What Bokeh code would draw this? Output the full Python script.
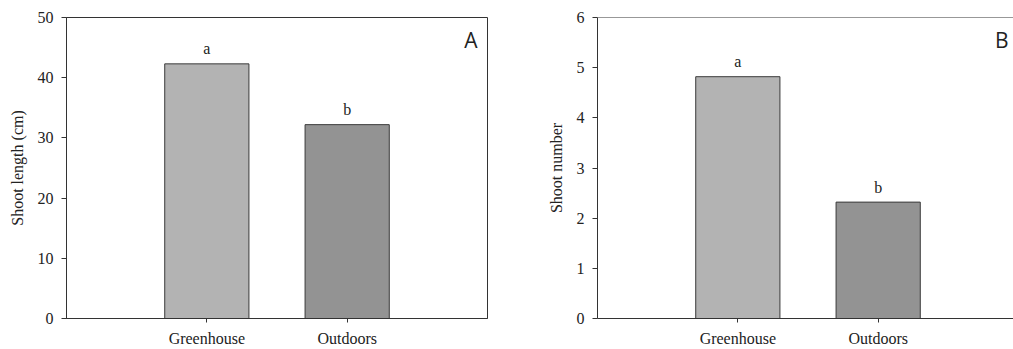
from bokeh.plotting import figure
from bokeh.layouts import row
from bokeh.models import FixedTicker, Label, Span, ColumnDataSource
from bokeh.core.properties import value
from bokeh.embed import file_html
from bokeh.resources import INLINE

categories = ["Greenhouse", "Outdoors"]
shoot_length = [42.3, 32.2]
shoot_number = [4.82, 2.32]
letters_length = ["a", "b"]
letters_number = ["a", "b"]
bar_colors = ["#b3b3b3", "#939393"]
length_ticks = [0, 10, 20, 30, 40, 50]
number_ticks = [0, 1, 2, 3, 4, 5, 6]

SERIF = "Liberation Serif"
INK = "#222222"
LINE = "#333333"


def make_panel(values, letters, ticks, ylabel, panel_tag, fig_w, left, right, frame_w, show_right):
    n = len(categories)
    xs = [i + 1 for i in range(n)]
    unit = 421 / (n + 1)
    x_end = frame_w / unit
    ymax = ticks[-1]
    p = figure(width=fig_w, height=349, x_range=(0, x_end), y_range=(0, ymax),
               output_backend="svg", toolbar_location=None,
               min_border_left=left, min_border_right=right,
               min_border_top=17, min_border_bottom=30)
    p.xgrid.visible = False
    p.ygrid.visible = False
    p.background_fill_color = "white"
    p.border_fill_color = "white"
    if show_right:
        p.outline_line_color = LINE
        p.outline_line_width = 1
    else:
        p.outline_line_color = None
        p.add_layout(Span(location=ymax, dimension="width", line_color=LINE, line_width=1))

    src = ColumnDataSource(dict(x=xs, top=values, color=bar_colors, lab=letters))
    p.vbar(x="x", top="top", width=0.6, bottom=0, fill_color="color",
           line_color="#3a3a3a", line_width=1, source=src)
    p.text(x="x", y="top", text="lab", source=src, text_align="center",
           text_baseline="alphabetic", y_offset=-15,
           text_font=value(SERIF), text_font_size="16px", text_color=INK)

    p.xaxis.ticker = FixedTicker(ticks=xs)
    p.xaxis.major_label_overrides = {x: c for x, c in zip(xs, categories)}
    p.yaxis.ticker = FixedTicker(ticks=ticks)
    for ax in (p.xaxis, p.yaxis):
        ax.axis_line_color = LINE
        ax.major_tick_line_color = LINE
        ax.minor_tick_line_color = None
        ax.major_tick_in = 0
        ax.major_label_text_font = SERIF
        ax.major_label_text_color = INK
    p.xaxis.major_tick_out = 4
    p.yaxis.major_tick_out = 5
    p.xaxis.major_label_text_font_size = "16px"
    p.xaxis.major_label_standoff = 7
    p.yaxis.major_label_text_font_size = "16px"
    p.yaxis.major_label_standoff = 8
    p.yaxis.axis_label = ylabel
    p.yaxis.axis_label_text_font = SERIF
    p.yaxis.axis_label_text_font_style = "normal"
    p.yaxis.axis_label_text_font_size = "16px"
    p.yaxis.axis_label_text_color = INK
    p.yaxis.axis_label_standoff = 9

    p.add_layout(Label(x=x_end, y=ymax, x_offset=-10 + (421 - frame_w), y_offset=-8,
                       text=panel_tag, text_align="right", text_baseline="top",
                       text_font="Open Sans", text_font_size="21px", text_color=INK))
    return p


p1 = make_panel(shoot_length, letters_length, length_ticks, "Shoot length (cm)", "A",
                530, 66, 43, 421, True)
p2 = make_panel(shoot_number, letters_number, number_ticks, "Shoot number", "B",
                483, 67, 0, 416, False)

layout = row(p1, p2)
open("out.html", "w").write(file_html(layout, INLINE))
